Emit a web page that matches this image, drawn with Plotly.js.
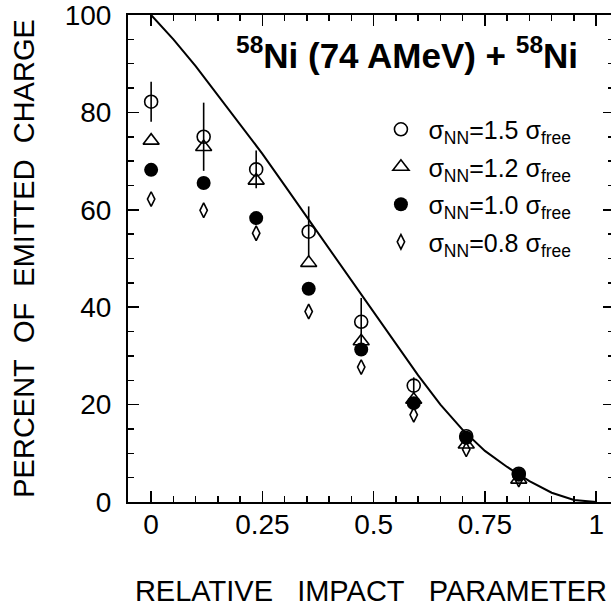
<!DOCTYPE html>
<html>
<head>
<meta charset="utf-8">
<script src="https://cdn.plot.ly/plotly-3.0.1.min.js"></script>
<style>
html,body{margin:0;padding:0;overflow:hidden;background:#fff;}
#chart{width:620px;height:608px;}
</style>
</head>
<body>
<div id="chart"></div>
<script>
// Impact parameter positions of the data points
const bRel = [0, 0.118, 0.236, 0.354, 0.472, 0.590, 0.708, 0.826];
// sigma_NN = 1.5 sigma_free (open circles, with error bars)
const s15 = [82.2, 75.0, 68.3, 55.5, 37.0, 23.9, 13.5, 5.8];
const s15err = [4.1, 7.0, 3.9, 5.2, 4.9, 1.7, 1.0, 0.8];
// sigma_NN = 1.2 sigma_free (open triangles)
const s12 = [74.2, 72.9, 66.0, 49.1, 33.0, 21.0, 11.8, 4.6];
// sigma_NN = 1.0 sigma_free (filled circles)
const s10 = [68.2, 65.5, 58.3, 43.8, 31.3, 20.3, 13.2, 5.6];
// sigma_NN = 0.8 sigma_free (open diamonds)
const s08 = [62.2, 59.9, 55.2, 39.1, 27.7, 17.9, 10.8, 4.6];
// Geometric reference curve
const curveX = [0, 0.05, 0.1, 0.15, 0.2, 0.25, 0.3, 0.35, 0.4, 0.45, 0.5, 0.55, 0.6, 0.65, 0.7, 0.75, 0.8, 0.85, 0.9, 0.95, 1.0];
const curveY = [100, 95, 89.5, 83.5, 77.5, 71.5, 65, 58.5, 52, 45.5, 39, 32.5, 26.0, 20.0, 14.8, 10.5, 7.2, 4.3, 1.9, 0.4, 0];
// Tick labels
const xTickVals = [0, 0.25, 0.5, 0.75, 1];
const xTickText = ['0', '0.25', '0.5', '0.75', '1'];
const yTickVals = [0, 20, 40, 60, 80, 100];
const seriesNames = [
  'σ<sub>NN</sub>=1.5 σ<sub>free</sub>',
  'σ<sub>NN</sub>=1.2 σ<sub>free</sub>',
  'σ<sub>NN</sub>=1.0 σ<sub>free</sub>',
  'σ<sub>NN</sub>=0.8 σ<sub>free</sub>'
];

const FONT = 'Liberation Sans, Arial, Helvetica, sans-serif';
const blk = '#000';

const traces = [
  {x: curveX, y: curveY, mode: 'lines', line: {color: blk, width: 2}, showlegend: false, hoverinfo: 'skip'},
  {x: bRel, y: s15, name: seriesNames[0], legendgroup: 'a', mode: 'markers',
   marker: {symbol: 'circle-open', size: 13, color: blk, line: {width: 1.6, color: blk}},
   error_y: {type: 'data', array: s15err, visible: true, color: blk, thickness: 1.6, width: 0}},
  {x: bRel, y: s12, name: seriesNames[1], legendgroup: 'b', mode: 'markers',
   marker: {symbol: 'triangle-up-open', size: 14, color: blk, line: {width: 1.6, color: blk}}},
  {x: bRel, y: s10, name: seriesNames[2], legendgroup: 'c', mode: 'markers',
   marker: {symbol: 'circle', size: 14, color: blk, line: {width: 0}}},
  {x: bRel, y: s08, name: seriesNames[3], legendgroup: 'd', mode: 'markers',
   marker: {symbol: 'diamond-tall-open', size: 10.5, color: blk, line: {width: 1.6, color: blk}}}
];

const axisCommon = {
  showgrid: false, zeroline: false, showline: true, linecolor: blk, linewidth: 2,
  mirror: 'allticks', ticks: 'inside', tickcolor: blk, tickwidth: 1.5, ticklen: 11,
  ticklabeloverflow: 'allow',
  tickfont: {family: FONT, size: 28, color: blk}
};

const layout = {
  width: 620, height: 608,
  margin: {l: 128, r: 6, t: 15, b: 105.5},
  paper_bgcolor: '#fff', plot_bgcolor: '#fff',
  font: {family: FONT, color: blk},
  showlegend: true,
  xaxis: Object.assign({}, axisCommon, {
    range: [-0.052, 1.04], tickvals: xTickVals, ticktext: xTickText,
    ticklabelstandoff: -4,
    minor: {dtick: 0.05, tick0: 0, ticks: 'inside', ticklen: 6, tickwidth: 1.5, tickcolor: blk},
    title: {text: 'RELATIVE\u00a0\u00a0 IMPACT\u00a0\u00a0 PARAMETER', font: {family: FONT, size: 29, color: blk}, standoff: 42}
  }),
  yaxis: Object.assign({}, axisCommon, {
    range: [0, 100], tickvals: yTickVals, ticklabelstandoff: 9,
    minor: {dtick: 5, tick0: 0, ticks: 'inside', ticklen: 6, tickwidth: 1.5, tickcolor: blk},
    title: {text: 'PERCENT\u00a0 OF\u00a0 EMITTED\u00a0 CHARGE', font: {family: FONT, size: 29, color: blk}, standoff: 22}
  }),
  legend: {
    x: 0.505, y: 0.812, xanchor: 'left', yanchor: 'top',
    bgcolor: 'rgba(0,0,0,0)', borderwidth: 0,
    font: {family: FONT, size: 25, color: blk},
    itemwidth: 45,
    traceorder: 'grouped', tracegroupgap: 2
  },
  annotations: [{
    xref: 'paper', yref: 'paper', x: 0.575, y: 0.922, xanchor: 'center', yanchor: 'middle',
    text: '<b><sup>58</sup>Ni (74 AMeV) + <sup>58</sup>Ni</b>', showarrow: false,
    font: {family: FONT, size: 35, color: blk}
  }]
};

Plotly.newPlot('chart', traces, layout, {displayModeBar: false, staticPlot: true});
</script>
</body>
</html>
